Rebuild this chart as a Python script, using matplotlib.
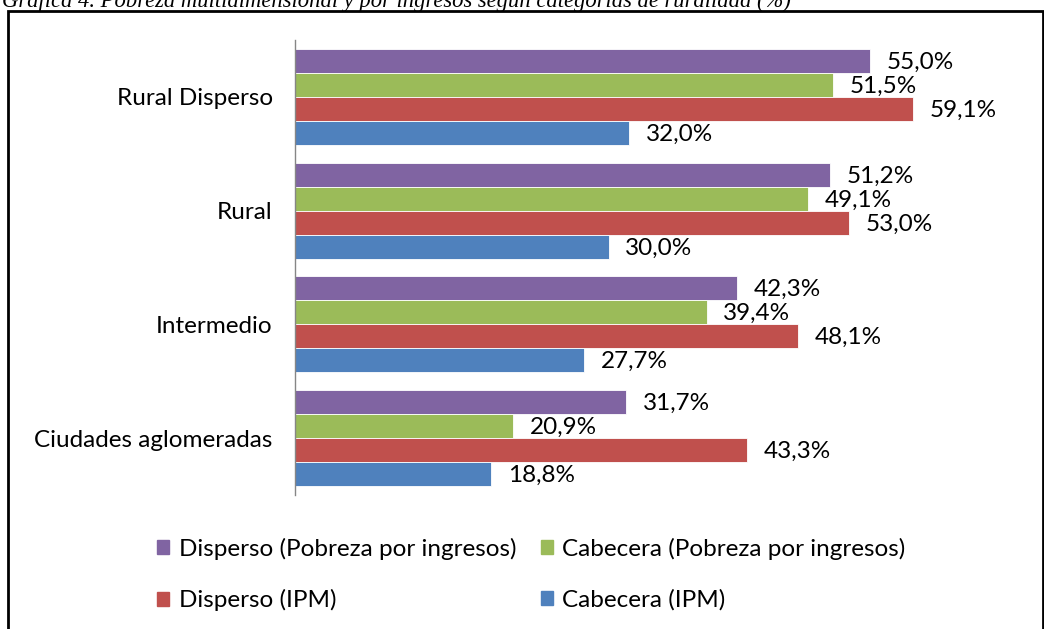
import matplotlib.pyplot as plt
from matplotlib.patches import Rectangle, Patch

# categories from bottom to top (barh draws index 0 at the bottom)
categories = ['Ciudades aglomeradas', 'Intermedio', 'Rural', 'Rural Disperso']
disperso_ingresos = [31.7, 42.3, 51.2, 55.0]
cabecera_ingresos = [20.9, 39.4, 49.1, 51.5]
disperso_ipm = [43.3, 48.1, 53.0, 59.1]
cabecera_ipm = [18.8, 27.7, 30.0, 32.0]

series = [
    ('Disperso (Pobreza por ingresos)', disperso_ingresos, '#8064A2'),
    ('Cabecera (Pobreza por ingresos)', cabecera_ingresos, '#9BBB59'),
    ('Disperso (IPM)', disperso_ipm, '#C0504D'),
    ('Cabecera (IPM)', cabecera_ipm, '#4F81BD'),
]

W, H = 1044, 629
font = ['Lato', 'DejaVu Sans']
fs = 17.5

fig = plt.figure(figsize=(W / 100, H / 100), dpi=100)
ax = fig.add_axes([295 / W, 1 - 495 / H, (1000 - 295) / W, 455 / H])

h = 0.211
offsets = [1.5 * h, 0.5 * h, -0.5 * h, -1.5 * h]
for (name, vals, color), off in zip(series, offsets):
    ys = [i + off for i in range(len(categories))]
    ax.barh(ys, vals, height=h, color=color, edgecolor='white', linewidth=0.6, label=name)
    for y, v in zip(ys, vals):
        ax.annotate(f'{v:.1f}%'.replace('.', ','), xy=(v, y), xytext=(12, -1),
                    textcoords='offset points', va='center', ha='left',
                    fontsize=fs, family=font, color='black')

ax.set_xlim(0, 705 / 10.45)
ax.set_ylim(-0.5, 3.5)
ax.set_yticks(range(len(categories)))
ax.set_yticklabels(categories, fontsize=fs, family=font)
ax.tick_params(axis='y', length=0, pad=16)
ax.xaxis.set_visible(False)
for s in ['top', 'right', 'bottom']:
    ax.spines[s].set_visible(False)
ax.spines['left'].set_color('#868686')
ax.spines['left'].set_linewidth(1)

# legend: column-wise fill, so order handles accordingly
handles = [Patch(color=c) for _, _, c in series]
labels = [n for n, _, _ in series]
order = [0, 2, 1, 3]
fig.legend([handles[i] for i in order], [labels[i] for i in order], ncol=2,
           loc='upper left', bbox_to_anchor=(135 / W, 1 - 516 / H),
           frameon=False, prop={'family': font, 'size': fs},
           handlelength=0.5, handleheight=0.5, handletextpad=0.4,
           columnspacing=1.0, labelspacing=1.2)

# outer frame (chart box)
fig.add_artist(Rectangle((8 / W, -0.05), (1043 - 8) / W, 1.05 - 10.5 / H,
                         transform=fig.transFigure, fill=False, lw=2, ec='black'))

fig.text(0.002, 1 - 6.5 / H,
         'Gráfica 4. Pobreza multidimensional y por ingresos según categorías de ruralidad (%)',
         family='Liberation Serif', style='italic', fontsize=16.3, va='baseline', ha='left')

fig.savefig('out.png', dpi=100)
